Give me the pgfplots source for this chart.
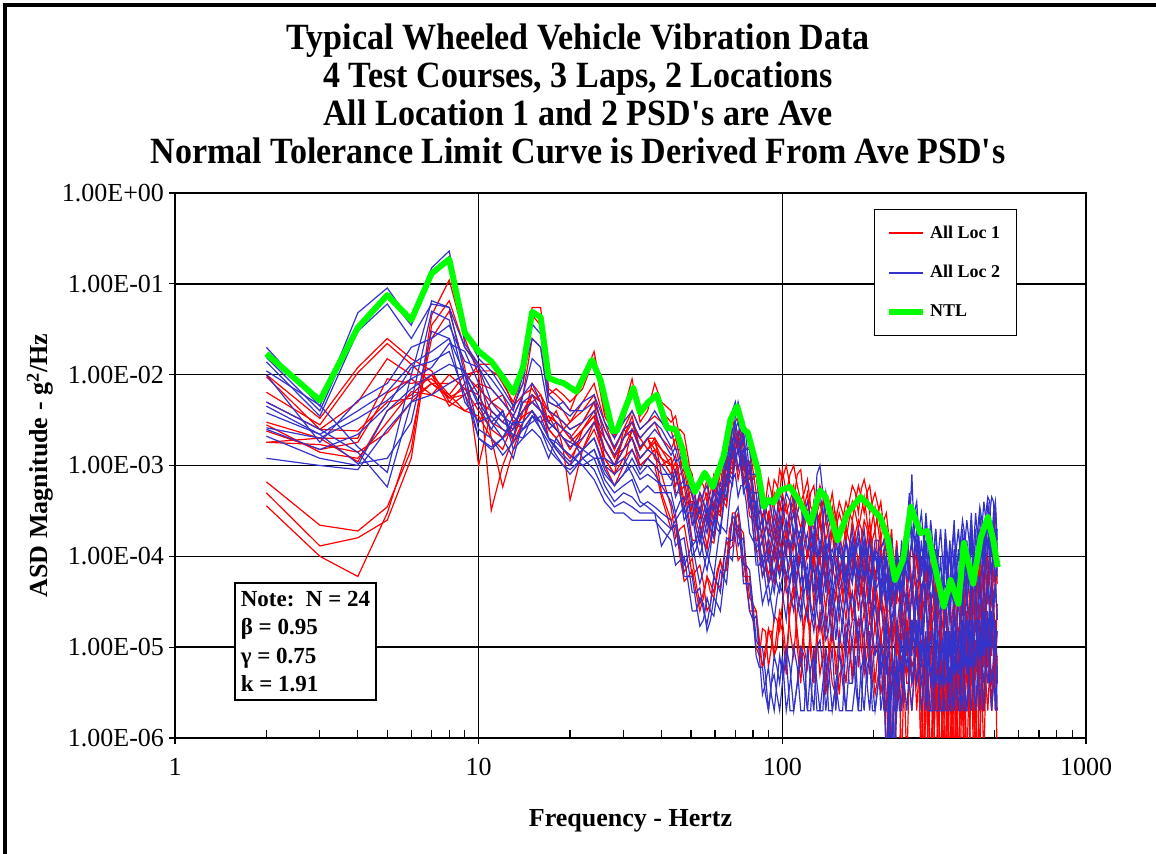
\documentclass[border=0pt]{standalone}
\usepackage{fontspec}
\setmainfont{Liberation Serif}
\newfontfamily\titlefont{Liberation Serif}[FakeStretch=0.92]
\usepackage{pgfplots}
\usepackage{pgfplotstable}
\pgfplotsset{compat=1.18}

\definecolor{locone}{RGB}{255,0,0}
\definecolor{loctwo}{RGB}{51,51,204}
\definecolor{ntlgreen}{RGB}{0,255,0}

\pgfplotsset{
  loc1/.style={draw=locone, color=locone, line width=0.6pt},
  loc2/.style={draw=loctwo, color=loctwo, line width=0.6pt},
  ntl/.style={draw=ntlgreen, color=ntlgreen, line width=3pt, line join=round},
}

% ASD of the 24 averaged PSDs: r = location 1, b = location 2 (g^2/Hz)
\pgfplotstableread{
f r1 r2 r3 r4 r5 r6 r7 r8 r9 r10 r11 r12 b1 b2 b3 b4 b5 b6 b7 b8 b9 b10 b11 b12
2 6.6e-4 5e-4 3.6e-4 1e-2 6.4e-3 5e-3 3e-3 1.8e-3 2.8e-3 1.8e-3 2.4e-3 9.5e-3 2e-2 1.55e-2 1.38e-2 1.1e-2 5e-3 3.8e-3 2.6e-3 2.1e-3 1.2e-3 1e-2 4.5e-3 2.5e-3
3 2.2e-4 1.3e-4 1e-4 3.3e-3 2.8e-3 2.5e-3 2e-3 1.7e-3 1.4e-3 2e-3 1.5e-3 2.5e-3 4.5e-3 4e-3 3.5e-3 4.6e-3 2.5e-3 2.2e-3 2e-3 1.2e-3 1e-3 1.8e-3 2.2e-3 1.5e-3
4 1.9e-4 1.6e-4 6e-5 1.2e-2 1.05e-2 5e-3 1.1e-3 1.4e-3 1.2e-3 2e-3 1.8e-3 2.4e-3 4.8e-2 3.5e-2 3e-2 1.6e-3 1.4e-3 1.05e-3 3.3e-3 1e-3 9e-4 5.2e-3 4e-3 2.2e-3
5 3.5e-4 2.5e-4 3e-4 2.5e-2 2.2e-2 1.5e-2 4e-3 2.3e-3 3e-3 9e-3 6.3e-3 5e-3 9e-2 7.5e-2 6e-2 8.4e-4 5.8e-4 1.2e-3 5.2e-3 4e-3 2.5e-3 8e-3 6.5e-3 4.5e-3
6 1.5e-3 1.2e-3 2e-3 1.5e-2 1.3e-2 1e-2 6e-3 5e-3 6.5e-3 8e-3 9e-3 5.5e-3 3.8e-2 3.5e-2 2.5e-2 1e-2 5e-3 3e-3 9e-3 7e-3 5e-3 2e-2 1.3e-2 1.2e-2
7 4.5e-2 3.5e-2 2.5e-2 1.1e-2 8e-3 1e-2 1e-2 8e-3 6e-3 9e-3 6e-3 8e-3 0.15 0.13 6e-2 6.5e-2 5e-2 3e-2 1.2e-2 1e-2 6e-3 2.5e-2 1.8e-2 1.4e-2
8 0.11 6.5e-2 5e-2 5e-3 6e-3 4.5e-3 6e-3 5.5e-3 1e-2 5.6e-3 5e-3 8e-3 0.23 0.2 5.5e-2 5.5e-2 4e-2 2.5e-2 2.2e-2 1.3e-2 8e-3 3.5e-2 2.5e-2 1.8e-2
9 2.5e-2 2e-2 1.2e-2 8e-3 1e-2 6e-3 4e-3 6e-3 7e-3 7e-3 4e-3 1e-2 3e-2 2.2e-2 2e-2 1e-2 8e-3 5e-3 1.8e-2 1.1e-2 1e-2 1.4e-2 1e-2 6e-3
10 1e-2 1.3e-2 1e-3 1.3e-2 1.1e-2 8e-3 5e-3 3e-3 4e-3 6e-3 3.5e-3 7e-3 1.5e-2 1.3e-2 1.2e-2 2.5e-3 2e-3 3e-3 8e-3 6e-3 4.5e-3 1.2e-2 5e-3 2e-3
11 3.2e-4 2e-3 4e-3 1.3e-2 1.1e-2 7e-3 4e-3 5e-3 2.5e-3 3e-3 2e-3 5e-3 1.1e-2 9e-3 7e-3 2e-3 1.5e-3 3.5e-3 4e-3 3e-3 2.5e-3 5e-3 3e-3 1.6e-3
12 1e-3 5.8e-4 3e-3 8e-3 9e-3 5e-3 3e-3 6e-3 2e-3 2.5e-3 1.5e-3 4e-3 7e-3 6e-3 5e-3 1.3e-3 2e-3 2.5e-3 3e-3 2e-3 4e-3 3.5e-3 4e-3 2e-3
13 2e-3 1.5e-3 2.5e-3 5e-3 4.5e-3 3.5e-3 4.5e-3 3e-3 2.5e-3 2e-3 3e-3 1.8e-3 4.5e-3 4e-3 3.5e-3 1.8e-3 1.2e-3 2.2e-3 2.5e-3 3.5e-3 1.5e-3 2.8e-3 2e-3 3e-3
14 4e-3 3e-3 5e-3 1e-2 8e-3 6e-3 6e-3 4e-3 3.5e-3 4e-3 2.5e-3 3e-3 8e-3 1e-2 6e-3 2.5e-3 3e-3 2e-3 5e-3 2.5e-3 2e-3 4e-3 6e-3 3e-3
15 6e-3 8e-3 5e-3 5.5e-2 4.5e-2 2.5e-2 7e-3 5e-3 4e-3 5e-3 3.5e-3 6e-3 3.6e-2 2.5e-2 1.5e-2 3.5e-3 4e-3 2.5e-3 6e-3 3e-3 3.5e-3 5e-3 8e-3 4e-3
16 5e-3 6e-3 4e-3 5.5e-2 3.5e-2 2e-2 5e-3 6e-3 3e-3 4e-3 3e-3 5e-3 2.8e-2 2e-2 1.2e-2 3e-3 2.5e-3 2e-3 4e-3 3.5e-3 2.5e-3 4e-3 5e-3 3e-3
17 3e-3 4e-3 2.5e-3 7e-3 6e-3 5e-3 4e-3 3e-3 3.5e-3 2.5e-3 3.5e-3 2e-3 6e-3 5e-3 4e-3 2e-3 1.5e-3 1.2e-3 3e-3 2e-3 1.8e-3 3e-3 2.5e-3 2e-3
18 2.5e-3 3e-3 2e-3 6e-3 7e-3 4.5e-3 3.5e-3 4e-3 2.5e-3 2e-3 3e-3 1.5e-3 5e-3 4.5e-3 3.5e-3 1.5e-3 1.2e-3 2e-3 2.5e-3 1.6e-3 1.3e-3 2.5e-3 3e-3 1.8e-3
19 2e-3 1.5e-3 2.5e-3 5e-3 6e-3 4e-3 3e-3 2.5e-3 2e-3 1.5e-3 2.5e-3 1.2e-3 4e-3 5e-3 3e-3 1.2e-3 1e-3 1.5e-3 2e-3 1.3e-3 1e-3 2e-3 2.5e-3 1.5e-3
20 1.5e-3 4.2e-4 2e-3 4e-3 5e-3 3e-3 2.5e-3 3e-3 1.8e-3 1.2e-3 2e-3 1e-3 3.5e-3 4e-3 2.5e-3 1e-3 8e-4 1.3e-3 1.6e-3 1.1e-3 9e-4 1.8e-3 2.2e-3 1.3e-3
22 2.5e-3 1.5e-3 3e-3 9e-3 7e-3 5e-3 3e-3 4e-3 2.5e-3 2e-3 1.5e-3 2.5e-3 5e-3 4e-3 3e-3 1.5e-3 1.2e-3 1e-3 2e-3 1.5e-3 1.2e-3 1.5e-3 1.2e-3 1e-3
24 4e-3 3e-3 5e-3 1.8e-2 1.5e-2 8e-3 5e-3 6e-3 3.5e-3 3e-3 2.5e-3 3.5e-3 6e-3 5e-3 4e-3 2e-3 1.5e-3 1.2e-3 3e-3 2e-3 1.5e-3 1.2e-3 9e-4 7e-4
26 1.5e-3 2e-3 1.2e-3 4e-3 3.5e-3 3e-3 2.5e-3 2e-3 1.5e-3 1.5e-3 1.2e-3 1e-3 3e-3 2.5e-3 2e-3 1e-3 8e-4 1.2e-3 1.5e-3 9e-4 7e-4 6e-4 5e-4 4e-4
28 1e-3 1.3e-3 8e-4 2e-3 2.2e-3 1.5e-3 1.5e-3 1.2e-3 1e-3 1e-3 8e-4 6e-4 2e-3 1.6e-3 1.3e-3 8e-4 6e-4 1e-3 1e-3 6e-4 5e-4 4e-4 3.5e-4 3e-4
30 2e-3 1.5e-3 2.5e-3 4e-3 3e-3 2.5e-3 2.5e-3 2e-3 1.5e-3 1.5e-3 1.2e-3 1e-3 3e-3 2.5e-3 2e-3 1e-3 8e-4 1.2e-3 1.5e-3 8e-4 6e-4 5e-4 4e-4 3e-4
32 3e-3 2.5e-3 2e-3 9e-3 7e-3 4e-3 3e-3 3.5e-3 2e-3 2e-3 1.5e-3 2.5e-3 4e-3 3e-3 2.5e-3 1.5e-3 1e-3 8e-4 2e-3 1.2e-3 7e-4 4.5e-4 3.5e-4 2.5e-4
34 1.5e-3 2e-3 1e-3 3e-3 3.5e-3 2.5e-3 2e-3 1.5e-3 1.2e-3 1.2e-3 1e-3 1.5e-3 2.5e-3 2e-3 1.6e-3 9e-4 7e-4 5e-4 1.2e-3 8e-4 4e-4 3.5e-4 3e-4 2.5e-4
36 2e-3 1.5e-3 1.2e-3 4e-3 4.5e-3 3e-3 2.5e-3 2e-3 1.5e-3 1.5e-3 1.2e-3 2e-3 3e-3 2.5e-3 2e-3 1.2e-3 8e-4 6e-4 1.5e-3 1e-3 3.5e-4 4e-4 3e-4 2.5e-4
38 1.5e-3 2e-3 1e-3 8e-3 6e-3 3.5e-3 3e-3 2e-3 1.8e-3 1.8e-3 1.5e-3 1.2e-3 4e-3 3e-3 2.5e-3 1e-3 7e-4 5e-4 1.3e-3 8e-4 3e-4 3.5e-4 3e-4 2.5e-4
40 5e-4 8e-4 4.5e-4 5e-3 4e-3 3e-3 2e-3 1.5e-3 1.2e-3 1.5e-3 1.2e-3 1e-3 3e-3 2.5e-3 2e-3 8e-4 6e-4 5e-4 1e-3 6e-4 1.3e-4 3e-4 2.5e-4 2e-4
43 2.5e-4 3.5e-4 2e-4 4e-3 3e-3 2.5e-3 1.5e-3 1.2e-3 1e-3 1e-3 8e-4 1.2e-3 2e-3 1.6e-3 1.3e-3 8e-4 6e-4 5e-4 7e-4 4e-4 2e-4 2.5e-4 2e-4 1.5e-4
44.5 2.9e-4 1.6e-4 2.2e-4 2.2e-3 3.5e-3 1.5e-3 2e-3 8e-4 1.3e-3 6e-4 1.1e-3 5e-4 2.2e-3 1.1e-3 1.6e-3 4.5e-4 8e-4 3e-4 9e-4 2.5e-4 2.5e-4 1.3e-4 2.2e-4 8e-5
46 1.3e-4 2e-4 1e-4 2.5e-3 2e-3 1.5e-3 1.2e-3 1e-3 7e-4 8e-4 6e-4 5e-4 1.5e-3 1.2e-3 1e-3 6e-4 5e-4 4e-4 5e-4 3e-4 1.5e-4 1.5e-4 1.2e-4 9e-5
47.5 6.7e-5 2.2e-4 5.3e-5 2.2e-3 1.1e-3 1.5e-3 7e-4 1.2e-3 4e-4 9e-4 3.5e-4 6e-4 9e-4 1.4e-3 6e-4 7e-4 3e-4 4.5e-4 2.5e-4 3.5e-4 8e-5 1.6e-4 6e-5 1e-4
49 8e-5 1.2e-4 6e-5 1.2e-3 1e-3 8e-4 8e-4 6e-4 5e-4 5e-4 4e-4 3e-4 1e-3 8e-4 6e-4 4e-4 3.5e-4 2.5e-4 3e-4 2e-4 1e-4 8e-5 6e-5 5e-5
50.5 9.5e-5 6e-5 7e-5 6e-4 8e-4 4.5e-4 7e-4 3e-4 5e-4 2.3e-4 4e-4 1.5e-4 7e-4 4.5e-4 5e-4 2.2e-4 3.8e-4 1.3e-4 3e-4 1e-4 1.4e-4 4e-5 6e-5 2.5e-5
52 5e-5 7e-5 4e-5 5e-4 4e-4 3.5e-4 3.5e-4 3e-4 2.5e-4 2.5e-4 2e-4 1.5e-4 4e-4 3.5e-4 3e-4 2.5e-4 2e-4 1.5e-4 1.5e-4 1.2e-4 8e-5 4e-5 3e-5 2.5e-5
53.5 3e-5 8e-5 2.5e-5 7e-4 3e-4 5e-4 2.5e-4 4.5e-4 1.7e-4 3.2e-4 1.4e-4 2.2e-4 3e-4 5e-4 2.2e-4 3.5e-4 1.4e-4 2.2e-4 1e-4 1.8e-4 5e-5 4.5e-5 1.7e-5 3.5e-5
55 4e-5 5e-5 3.5e-5 6e-4 5e-4 4e-4 4e-4 3e-4 2.5e-4 2e-4 2.5e-4 1.5e-4 5e-4 4e-4 3e-4 2.5e-4 2e-4 1.5e-4 1.5e-4 1e-4 7e-5 2.5e-5 2e-5 3e-5
56.5 6e-5 2.5e-5 6e-5 4e-4 7e-4 2.5e-4 5e-4 2.2e-4 3.2e-4 1.3e-4 3e-4 1.2e-4 6e-4 2.5e-4 4e-4 1.8e-4 3.5e-4 1e-4 2.5e-4 7e-5 1.1e-4 1.8e-5 3.5e-5 1.5e-5
58 4e-5 3e-5 5e-5 5e-4 4e-4 3e-4 3e-4 3.5e-4 2e-4 2e-4 1.5e-4 2.5e-4 4e-4 3.5e-4 2.5e-4 3e-4 2e-4 1.5e-4 2e-4 1.2e-4 8e-5 3e-5 2.5e-5 2e-5
59.5 3.5e-5 6e-5 4e-5 8e-4 3.5e-4 5.5e-4 2.5e-4 5.5e-4 1.6e-4 3.5e-4 1.4e-4 4e-4 3.2e-4 6.5e-4 2.2e-4 5e-4 1.8e-4 2.8e-4 1.6e-4 2.6e-4 6e-5 6e-5 2.2e-5 3.5e-5
61 6e-5 5e-5 7e-5 7e-4 6e-4 5e-4 5e-4 4e-4 3e-4 3e-4 2.5e-4 3.5e-4 6e-4 5e-4 4e-4 4e-4 3e-4 2.5e-4 3e-4 2e-4 1.2e-4 5e-5 4e-5 3e-5
62.5 9e-5 4.5e-5 9e-5 6e-4 1e-3 4.5e-4 8.5e-4 3.5e-4 5.5e-4 2.8e-4 4.5e-4 3e-4 1e-3 4.5e-4 6.5e-4 3.8e-4 5.5e-4 2e-4 5e-4 1.8e-4 2.2e-4 4e-5 7e-5 2.5e-5
64 7e-5 9e-5 6e-5 1e-3 8e-4 7e-4 7e-4 6e-4 5e-4 5e-4 4e-4 6e-4 1e-3 8e-4 6e-4 7e-4 5e-4 4e-4 5e-4 3.5e-4 2e-4 8e-5 6e-5 5e-5
65.5 7e-5 1.5e-4 8e-5 1.8e-3 7e-4 1.3e-3 6e-4 1.2e-3 4e-4 1e-3 3.5e-4 1.1e-3 9e-4 1.7e-3 6e-4 1.4e-3 4.5e-4 8e-4 4.5e-4 7.5e-4 1.8e-4 1.6e-4 5e-5 1e-4
67 1.5e-4 1.2e-4 2e-4 1.8e-3 1.5e-3 1.2e-3 1.3e-3 1e-3 8e-4 9e-4 7e-4 1e-3 2e-3 1.6e-3 1.3e-3 1.3e-3 1e-3 8e-4 9e-4 7e-4 4e-4 1.5e-4 1.2e-4 1e-4
68.5 3e-4 1.3e-4 2.5e-4 1.7e-3 3.2e-3 1.2e-3 2.5e-3 1e-3 1.6e-3 8e-4 1.5e-3 9e-4 4e-3 1.6e-3 2.5e-3 1.2e-3 2e-3 7e-4 1.6e-3 6e-4 7e-4 1.5e-4 2.8e-4 9e-5
70 3e-4 2.5e-4 1.6e-4 3e-3 2.5e-3 2e-3 2.5e-3 2e-3 1.5e-3 1.5e-3 1.2e-3 1.8e-3 5e-3 3.5e-3 3e-3 2.5e-3 2e-3 1.5e-3 1.5e-3 1.2e-3 8e-4 3e-4 2.5e-4 2e-4
71.5 1.6e-4 3e-4 9e-5 3.5e-3 1.6e-3 2.3e-3 1.4e-3 2.4e-3 9e-4 1.8e-3 7e-4 2e-3 3e-3 5e-3 2e-3 3e-3 1.3e-3 2e-3 9e-4 1.5e-3 4.5e-4 3.5e-4 1.3e-4 2.2e-4
73 2e-4 1.5e-4 1e-4 2.5e-3 2e-3 1.5e-3 1.8e-3 1.5e-3 1.2e-3 1.2e-3 1e-3 1.3e-3 3e-3 3.5e-3 2.5e-3 2e-3 1.8e-3 1.3e-3 1.3e-3 1e-3 6e-4 2e-4 1.5e-4 1.2e-4
74.5 1.8e-4 6e-5 1e-4 1.4e-3 2.3e-3 9e-4 2e-3 7e-4 1.3e-3 6e-4 1.2e-3 7e-4 3.2e-3 1.7e-3 2.4e-3 1e-3 2e-3 6e-4 1.5e-3 5e-4 6e-4 8e-5 1.6e-4 5e-5
76 8e-5 6e-5 5e-5 1.5e-3 1.2e-3 1e-3 1e-3 8e-4 7e-4 7e-4 6e-4 8e-4 2e-3 1.5e-3 1.2e-3 1.2e-3 1e-3 8e-4 8e-4 6e-4 4e-4 8e-5 6e-5 5e-5
78 3.5e-5 6e-5 2.5e-5 1.6e-3 7e-4 1.1e-3 5e-4 9e-4 3.5e-4 6e-4 2.8e-4 6e-4 8e-4 1.5e-3 5e-4 1e-3 4.5e-4 6e-4 3.5e-4 5e-4 1.8e-4 7e-5 2.5e-5 5e-5
80 3e-5 2e-5 2.5e-5 9e-4 7e-4 6e-4 5e-4 4e-4 3.5e-4 3e-4 2.5e-4 2e-4 8e-4 6e-4 5e-4 5e-4 4e-4 3e-4 3e-4 2e-4 1.5e-4 3e-5 2e-5 2.5e-5
82 2.5e-5 1e-5 2.5e-5 5e-4 8e-4 3.2e-4 5e-4 2e-4 3e-4 1.5e-4 2.5e-4 1.1e-4 8e-4 3e-4 5e-4 2.2e-4 4e-4 1.4e-4 2.8e-4 8e-5 1.3e-4 1.2e-5 2.2e-5 8e-6
84 1e-5 8e-6 1.2e-5 5e-4 4e-4 3e-4 2.5e-4 2e-4 1.5e-4 1.5e-4 1e-4 1.2e-4 4e-4 3e-4 2.5e-4 2e-4 1.5e-4 1.2e-4 1.2e-4 8e-5 6e-5 1e-5 8e-6 6e-6
86 6e-6 1.6e-5 6e-6 6e-4 2.5e-4 4e-4 1.5e-4 2.8e-4 8e-5 2e-4 6e-5 1.5e-4 2.2e-4 4e-4 1.5e-4 2.5e-4 8e-5 1.5e-4 6e-5 1e-4 3e-5 1e-5 3e-6 6e-6
88 1e-5 1.5e-5 8e-6 3.5e-4 4e-4 2.5e-4 2e-4 1.5e-4 1e-4 1e-4 7e-5 8e-5 3e-4 2.5e-4 2e-4 1.5e-4 1e-4 8e-5 8e-5 5e-5 4e-5 5e-6 4e-6 3e-6
90 1.6e-5 6e-6 1.5e-5 2.5e-4 7e-4 1.8e-4 3e-4 1e-4 1.6e-4 6e-5 1.2e-4 5e-5 4.5e-4 1.6e-4 2.5e-4 9e-5 1.5e-4 5e-5 1e-4 3e-5 5e-5 2e-6 6e-6 2e-6
92 1.2e-5 1e-5 1.5e-5 4e-4 5e-4 3e-4 2e-4 1.5e-4 1.2e-4 9e-5 8e-5 6e-5 3e-4 2e-4 1.5e-4 1.2e-4 9e-5 7e-5 6e-5 4e-5 3e-5 4e-6 3e-6 4e-6
94 8e-6 2.2e-5 8e-6 7e-4 3.5e-4 5e-4 1.5e-4 2.8e-4 9e-5 1.4e-4 5e-5 1.3e-4 2e-4 3.5e-4 1.2e-4 2e-4 6e-5 1.2e-4 4e-5 7e-5 2e-5 8e-6 2e-6 5e-6
96 1.5e-5 2e-5 1e-5 6e-4 5e-4 4e-4 2.5e-4 2e-4 1.5e-4 1e-4 8e-5 1.2e-4 3e-4 2.5e-4 2e-4 1.5e-4 1e-4 8e-5 7e-5 5e-5 3.5e-5 6e-6 4e-6 3e-6
98 2.5e-5 1.5e-5 2e-5 5e-4 9e-4 3e-4 4e-4 1.5e-4 2.5e-4 7e-5 1.5e-4 6e-5 5e-4 1.8e-4 3e-4 1e-4 2e-4 6e-5 1.1e-4 4e-5 5e-5 4e-6 8e-6 2e-6
100 2e-5 3e-5 1.5e-5 9e-4 7e-4 5e-4 3e-4 2.5e-4 2e-4 1.2e-4 1e-4 8e-5 4e-4 3e-4 2e-4 1.5e-4 1.2e-4 9e-5 8e-5 6e-5 4e-5 8e-6 5e-6 4e-6
103 8e-6 6e-5 5e-6 5e-4 1e-3 3e-4 1.5e-4 4e-4 1e-4 2e-4 5e-5 1.5e-4 2e-4 5e-4 1.2e-4 2.5e-4 6e-5 1.5e-4 4e-5 1.2e-4 2e-5 2e-6 1e-5 8e-6
106 2.5e-5 1.5e-5 3e-5 8e-4 6e-4 4e-4 3e-4 2e-4 2.5e-4 1e-4 8e-5 1.2e-4 3e-4 4e-4 2e-4 1.2e-4 1e-4 1.5e-4 5e-5 4e-5 6e-5 4e-6 6e-6 2e-6
109 4e-5 8e-6 5e-5 1e-3 4e-4 6e-4 4e-4 1.2e-4 3.5e-4 5e-5 1.5e-4 4e-5 5e-4 1.5e-4 3e-4 6e-5 2e-4 5e-5 1e-4 2.5e-5 8e-5 1e-5 2e-6 2e-6
112 1.5e-5 2.5e-5 1e-5 6e-4 8e-4 3e-4 2e-4 3e-4 1.5e-4 7e-5 1e-4 6e-5 2e-4 3e-4 1.5e-4 1.5e-4 8e-5 1e-4 4e-5 6e-5 3e-5 6e-6 4e-6 4e-6
115 6e-6 4e-5 4e-6 4e-4 9e-4 2e-4 1.2e-4 4e-4 1e-4 1.5e-4 4e-5 1.2e-4 1.5e-4 4e-4 1e-4 2e-4 5e-5 1.5e-4 2.5e-5 1e-4 2e-5 2e-6 1e-5 8e-6
118 2e-5 1e-5 1.6e-5 5e-4 4e-4 3.5e-4 2.5e-4 1.5e-4 2e-4 9e-5 6e-5 8e-5 3e-4 2e-4 2.5e-4 1e-4 1.3e-4 7e-5 6e-5 3e-5 4e-5 2e-6 8e-6 4e-6
121 3e-5 6e-6 3e-5 7e-4 3e-4 5e-4 3e-4 1e-4 3e-4 4e-5 1.2e-4 3e-5 4e-4 1.2e-4 3e-4 5e-5 1.8e-4 4e-5 8e-5 2e-5 6e-5 1e-5 2e-6 2e-6
124 1.2e-5 1.8e-5 8e-6 3.5e-4 5e-4 2.5e-4 1.5e-4 2e-4 1.2e-4 6e-5 8e-5 5e-5 2.5e-4 1.5e-4 2e-4 8e-5 1e-4 1.2e-4 3e-5 5e-5 2.5e-5 4e-6 2e-6 6e-6
127 5e-6 3e-5 4e-6 3e-4 6e-4 2e-4 1e-4 3e-4 8e-5 1.2e-4 3e-5 1e-4 1.2e-4 4e-4 1e-4 1.8e-4 4e-5 1.5e-4 2e-5 8e-5 1.5e-5 2e-6 1e-5 8e-6
130 1e-5 1.3e-5 1.6e-5 4e-4 3e-4 3e-4 2e-4 1.2e-4 1.5e-4 5e-5 7e-5 6e-5 8e-4 3e-4 4e-4 1.3e-4 8e-5 1e-4 5e-5 2.5e-5 3e-5 1e-5 4e-6 2e-6
133 2.5e-5 5e-6 2e-5 6e-4 2.5e-4 4e-4 3e-4 8e-5 2.5e-4 3e-5 1e-4 3e-5 1e-3 1e-4 5e-4 4e-5 1.5e-4 3e-5 7e-5 1.5e-5 6e-5 1.2e-5 2e-6 2e-6
136 1.5e-5 8e-6 1.2e-5 4.5e-4 4e-4 2.5e-4 1.5e-4 1.8e-4 1e-4 6e-5 5e-5 8e-5 5e-4 2.5e-4 3e-4 1e-4 1.2e-4 7e-5 3e-5 4e-5 2e-5 6e-6 2e-6 4e-6
139 4e-6 2.5e-5 3e-6 2.5e-4 5e-4 1.5e-4 8e-5 2.5e-4 6e-5 1e-4 2.5e-5 8e-5 3e-4 5e-4 1e-4 1.5e-4 4e-5 1.2e-4 1.5e-5 6e-5 1.2e-5 2e-6 1e-5 8e-6
142 8e-6 1e-5 6e-6 3e-4 3.5e-4 2e-4 1.2e-4 1.5e-4 8e-5 4e-5 6e-5 5e-5 2e-4 2.5e-4 1.5e-4 8e-5 1e-4 6e-5 2.5e-5 3e-5 1.5e-5 4e-6 6e-6 2e-6
146 2e-5 4e-6 1.5e-5 5e-4 2e-4 3.5e-4 2.5e-4 6e-5 2e-4 2.5e-5 8e-5 2e-5 8e-5 3e-4 6e-5 4e-5 1.2e-4 3e-5 6e-5 1.2e-5 4e-5 1e-5 2e-6 2e-6
150 5e-6 3e-6 8e-6 2.5e-4 3e-4 2e-4 1e-4 1.2e-4 7e-5 3.5e-5 5e-5 4e-5 1.5e-4 2e-4 1.2e-4 6e-5 8e-5 5e-5 2e-5 2.5e-5 1.2e-5 2e-6 4e-6 4e-6
154 1.5e-5 5e-6 3e-6 4e-4 1.5e-4 3e-4 6e-5 2e-4 5e-5 8e-5 2e-5 3e-5 1.5e-4 6e-5 1.2e-4 1.2e-4 4e-5 1.5e-4 4e-5 1e-5 3e-5 1e-5 2e-6 8e-6
158 8e-6 6e-6 1e-5 3e-4 2.5e-4 2.2e-4 1.2e-4 1e-4 8e-5 4e-5 3.5e-5 5e-5 1.2e-4 1e-4 8e-5 8e-5 6e-5 7e-5 2.5e-5 2e-5 1.5e-5 4e-6 2e-6 6e-6
162 4e-6 1.5e-5 1.8e-5 2e-4 4e-4 1.5e-4 2e-4 6e-5 1.5e-4 2e-5 7e-5 8e-5 6e-5 1.5e-4 5e-5 4e-5 1.5e-4 3e-5 1e-5 4e-5 8e-6 2e-6 1.2e-5 2e-6
166 1.2e-5 1e-5 1.5e-5 4e-4 3e-4 2.5e-4 1.5e-4 1.2e-4 1e-4 5e-5 4e-5 6e-5 1.2e-4 1e-4 8e-5 1e-4 7e-5 6e-5 3e-5 2e-5 2.5e-5 6e-6 4e-6 2e-6
170 2e-5 5e-6 4e-6 6e-4 2.5e-4 4e-4 8e-5 2.5e-4 6e-5 8e-5 2e-5 2e-5 2e-4 6e-5 1.5e-4 1.5e-4 5e-5 1.2e-4 4e-5 1e-5 4e-5 1.2e-5 4e-6 2e-6
174 2e-5 1.5e-5 1.2e-5 5e-4 4e-4 3e-4 1.8e-4 1.5e-4 1.2e-4 6e-5 5e-5 4e-5 1e-4 1.2e-4 8e-5 8e-5 1e-4 6e-5 2.5e-5 3e-5 2e-5 4e-6 8e-6 4e-6
178 6e-6 2e-5 2e-5 3e-4 6e-4 2e-4 2.5e-4 8e-5 2e-4 2.5e-5 9e-5 7e-5 6e-5 2e-4 6e-5 5e-5 1.5e-4 4e-5 1.2e-5 5e-5 1e-5 2e-6 2e-6 1.2e-5
182 1.5e-5 2e-5 1e-5 5.5e-4 4.5e-4 3e-4 2e-4 1.5e-4 1.2e-4 5e-5 6e-5 4e-5 1.2e-4 1e-4 9e-5 1e-4 8e-5 7e-5 3e-5 2e-5 2.5e-5 2e-6 6e-6 4e-6
186 2.5e-5 6e-6 5e-6 7e-4 3e-4 4.5e-4 1e-4 2.5e-4 6e-5 8e-5 2.5e-5 1e-4 2e-4 6e-5 1.5e-4 1.5e-4 5e-5 1.2e-4 4e-5 1.2e-5 5e-5 1.2e-5 8e-6 2e-6
190 1.2e-5 1.5e-5 8e-6 5e-4 5e-4 2.5e-4 1.5e-4 2e-4 1e-4 4e-5 5e-5 6e-5 1e-4 8e-5 1.2e-4 8e-5 1e-4 6e-5 2.5e-5 3e-5 1.5e-5 4e-6 4e-6 6e-6
194 5e-6 2e-5 1.5e-5 3e-4 6e-4 1.5e-4 2.5e-4 8e-5 1.8e-4 2e-5 8e-5 2e-5 5e-5 1.5e-4 5e-5 4e-5 1.5e-4 3e-5 1e-5 4e-5 8e-6 2e-6 1e-5 8e-6
198 1e-5 1.2e-5 6e-6 4e-4 3.5e-4 2.5e-4 1.2e-4 1.5e-4 8e-5 3.5e-5 4e-5 3e-5 8e-5 1e-4 6e-5 7e-5 6e-5 8e-5 2e-5 1.5e-5 2.5e-5 6e-6 4e-6 2e-6
202 1.8e-5 4e-6 3e-6 5e-4 2e-4 3.5e-4 6e-5 2e-4 5e-5 6e-5 1.5e-5 5e-5 1.5e-4 4e-5 1.2e-4 1.2e-4 4e-5 1e-4 3e-5 8e-6 4e-5 1e-5 2e-6 2e-6
207 8e-6 1e-5 5e-6 3.5e-4 3e-4 2e-4 1e-4 8e-5 6e-5 3e-5 2.5e-5 2e-5 1.5e-4 1.2e-4 1e-4 6e-5 5e-5 7e-5 1.5e-5 2e-5 1e-5 8e-6 4e-6 4e-6
211 3e-6 1.5e-5 1.2e-5 1.5e-4 4e-4 1.2e-4 1.5e-4 4e-5 1.2e-4 1.2e-5 5e-5 4e-5 4e-5 1.2e-4 3e-5 3e-5 1e-4 8e-5 8e-6 3e-5 5e-6 2e-6 1e-5 8e-6
216 6e-6 4e-6 8e-6 2.5e-4 2e-4 1.5e-4 6e-5 7e-5 4e-5 2e-5 1.5e-5 2.5e-5 1.2e-4 1.5e-4 8e-5 5e-5 6e-5 4e-5 1.2e-5 1.5e-5 8e-6 4e-6 6e-6 2e-6
220 1.2e-5 5e-7 3e-6 3e-4 1e-4 2e-4 3e-5 1e-4 2.5e-5 4e-5 5e-7 1e-5 1.2e-4 3e-5 1e-4 1e-4 2.5e-5 6e-5 2.5e-5 5e-6 2e-5 8e-6 5e-7 2e-6
225 4e-6 6e-6 5e-7 1.5e-4 1.2e-4 8e-5 4e-5 3e-5 2.5e-5 1.2e-5 5e-7 1.5e-5 1e-4 8e-5 6e-5 4e-5 5e-5 3e-5 8e-6 1e-5 5e-7 2e-6 4e-6 4e-6
229 5e-7 8e-6 5e-7 5e-5 2e-4 4e-5 8e-5 1e-5 5e-5 5e-7 2e-5 5e-7 4e-5 1.5e-4 3e-5 2e-5 6e-5 1.5e-5 5e-7 2e-5 4e-6 5e-7 6e-6 5e-7
234 5e-7 4e-6 6e-6 8e-5 6e-5 5e-5 2.5e-5 2e-5 1.5e-5 8e-6 1e-5 5e-7 6e-5 8e-5 5e-5 3e-5 4e-5 2.5e-5 6e-6 5e-7 8e-6 4e-6 2e-6 5e-7
238 6e-6 5e-7 2e-6 1.5e-4 3e-5 1e-4 1e-5 4e-5 8e-6 1.5e-5 2e-6 1e-5 1.2e-4 4e-5 1e-4 6e-5 1.5e-5 8e-5 2e-5 2e-6 1.5e-5 6e-6 2e-6 8e-6
243 4e-6 5e-7 4e-6 6e-5 8e-5 4e-5 2e-5 3e-5 1.2e-5 6e-6 8e-6 1e-5 8e-5 6e-5 7e-5 4e-5 3e-5 5e-5 1e-5 8e-6 1.2e-5 2e-6 6e-6 4e-6
247 5e-7 6e-6 8e-6 4e-5 1.2e-4 3e-5 4e-5 1e-5 3e-5 4e-6 2e-5 4e-6 4e-5 1.5e-4 4e-5 2e-5 8e-5 2e-5 4e-6 2.5e-5 5e-6 2e-6 1.2e-5 2e-6
252 6e-6 4e-6 8e-6 8e-5 1e-4 6e-5 3e-5 2.5e-5 2e-5 1e-5 1.2e-5 6e-6 1e-4 8e-5 1.2e-4 5e-5 4e-5 6e-5 1.5e-5 1e-5 1.2e-5 6e-6 4e-6 8e-6
257 1.2e-5 5e-7 4e-6 1.5e-4 5e-5 1.2e-4 1e-5 5e-5 8e-6 2e-5 5e-6 2e-5 2e-4 6e-5 2e-4 1e-4 2.5e-5 1.2e-4 3e-5 6e-6 4e-5 1.2e-5 2e-6 1.5e-5
262 8e-6 6e-6 4e-6 1e-4 8e-5 7e-5 4e-5 3e-5 2e-5 1.2e-5 8e-6 1e-5 5e-4 2e-4 3e-4 8e-5 1e-4 6e-5 2e-5 1.5e-5 2.5e-5 1e-5 6e-6 4e-6
267 4e-6 1.2e-5 2e-6 5e-5 1.5e-4 4e-5 6e-5 1.2e-5 4e-5 6e-6 2e-5 4e-6 1.5e-4 8e-4 1.2e-4 3e-5 1.5e-4 4e-5 8e-6 5e-5 1e-5 4e-6 2e-5 2e-6
272 6e-6 8e-6 5e-6 8e-5 6e-5 5e-5 3e-5 2.5e-5 2e-5 8e-6 1e-5 6e-6 3e-4 1.5e-4 2e-4 1e-4 8e-5 1.2e-4 3e-5 2e-5 1.5e-5 8e-6 1.2e-5 6e-6
277 1e-5 2e-6 1.2e-5 1.2e-4 4e-5 1e-4 1.2e-5 5e-5 8e-6 1.5e-5 4e-6 1.5e-5 4e-4 1e-4 3e-4 1.5e-4 5e-5 2e-4 5e-5 1e-5 4e-5 2e-5 4e-6 1.5e-5
282 4e-6 6e-6 4e-6 6e-5 5e-5 4e-5 2e-5 3e-5 1.5e-5 6e-6 8e-6 4e-6 1.5e-4 2e-4 1.2e-4 8e-5 6e-5 1e-4 2e-5 3e-5 1.2e-5 1e-5 6e-6 8e-6
287 2e-6 1e-5 5e-7 3e-5 1e-4 2e-5 5e-5 8e-6 3e-5 4e-6 1.2e-5 5e-7 8e-5 3e-4 6e-5 4e-5 1.5e-4 3e-5 8e-6 4e-5 6e-6 4e-6 2e-5 2e-6
292 5e-7 4e-6 6e-6 5e-5 6e-5 3e-5 1.5e-5 2e-5 1e-5 4e-6 5e-7 6e-6 1.2e-4 1.5e-4 1e-4 6e-5 8e-5 5e-5 1.5e-5 1e-5 2e-5 6e-6 8e-6 4e-6
297 8e-6 5e-7 8e-6 8e-5 2.5e-5 7e-5 6e-6 3e-5 4e-6 1.2e-5 2e-6 1e-5 3e-4 7e-5 2.5e-4 1.5e-4 3e-5 1.5e-4 4e-5 6e-6 5e-5 1.5e-5 2e-6 1.2e-5
302 4e-6 5e-7 2e-6 4e-5 5e-5 3e-5 1.2e-5 1.5e-5 8e-6 5e-7 4e-6 5e-7 1.5e-4 1e-4 1.2e-4 5e-5 6e-5 8e-5 1e-5 1.5e-5 8e-6 4e-6 6e-6 2e-6
308 5e-7 6e-6 5e-7 2e-5 8e-5 1.5e-5 3e-5 4e-6 2e-5 5e-7 1e-5 5e-7 6e-5 2.5e-4 5e-5 3e-5 1.2e-4 3e-5 5e-6 4e-5 4e-6 2e-6 1.5e-5 2e-6
314 5e-7 2e-6 5e-7 3e-5 4e-5 2e-5 1e-5 8e-6 6e-6 4e-6 5e-7 2e-6 1e-4 1.2e-4 8e-5 4e-5 6e-5 5e-5 8e-6 1.2e-5 6e-6 2e-6 4e-6 6e-6
320 6e-6 5e-7 4e-6 6e-5 1.5e-5 5e-5 4e-6 2.5e-5 2e-6 1e-5 5e-7 8e-6 2e-4 5e-5 2e-4 1.2e-4 2.5e-5 1e-4 4e-5 4e-6 3e-5 1.5e-5 2e-6 1.2e-5
326 2e-6 5e-7 4e-6 2.5e-5 3e-5 1.5e-5 6e-6 1e-5 4e-6 5e-7 2e-6 5e-7 8e-5 1e-4 6e-5 5e-5 4e-5 3e-5 1e-5 6e-6 8e-6 4e-6 2e-6 4e-6
332 5e-7 5e-6 5e-7 1.2e-5 5e-5 1e-5 2e-5 2e-6 1.5e-5 5e-7 8e-6 5e-7 5e-5 2e-4 4e-5 2.5e-5 1e-4 2e-5 4e-6 3e-5 4e-6 2e-6 1.2e-5 2e-6
338 5e-7 4e-6 5e-7 2e-5 2.5e-5 1.2e-5 4e-6 6e-6 5e-7 2e-6 5e-7 4e-6 6e-5 8e-5 5e-5 4e-5 3e-5 5e-5 6e-6 8e-6 4e-6 2e-6 4e-6 2e-6
344 5e-6 5e-7 5e-7 4e-5 1e-5 4e-5 2e-6 1.5e-5 5e-7 8e-6 5e-7 6e-6 1.5e-4 4e-5 2e-4 1e-4 2e-5 1.2e-4 3e-5 4e-6 4e-5 1.2e-5 2e-6 1.5e-5
350 4e-6 5e-7 2e-6 1.5e-5 2e-5 1e-5 6e-6 4e-6 8e-6 5e-7 4e-6 5e-7 8e-5 6e-5 1e-4 3e-5 5e-5 4e-5 8e-6 5e-6 1e-5 4e-6 2e-6 6e-6
356 5e-7 4e-6 5e-7 1e-5 4e-5 8e-6 1.5e-5 2e-6 1.2e-5 5e-7 6e-6 5e-7 4e-5 1.5e-4 4e-5 2e-5 1.2e-4 2e-5 4e-6 4e-5 4e-6 2e-6 1.5e-5 2e-6
362 2e-6 4e-6 5e-7 2e-5 1.5e-5 1.2e-5 8e-6 6e-6 4e-6 4e-6 5e-7 2e-6 1e-4 8e-5 1.2e-4 5e-5 4e-5 6e-5 1e-5 8e-6 6e-6 6e-6 4e-6 2e-6
368 4e-6 5e-7 6e-6 4e-5 1e-5 3e-5 2e-6 1.5e-5 5e-7 8e-6 5e-7 8e-6 2e-4 5e-5 2.5e-4 1.2e-4 2.5e-5 1e-4 4e-5 5e-6 3e-5 1.5e-5 2e-6 1.5e-5
374 5e-7 2e-6 4e-6 2.5e-5 2e-5 1.5e-5 6e-6 1e-5 5e-7 2e-6 4e-6 5e-7 8e-5 1.2e-4 6e-5 4e-5 6e-5 5e-5 8e-6 1.2e-5 6e-6 4e-6 6e-6 4e-6
380 5e-7 5e-6 5e-7 1.2e-5 5e-5 1e-5 1.5e-5 4e-6 1.2e-5 5e-7 8e-6 5e-7 5e-5 2e-4 5e-5 2.5e-5 1.2e-4 3e-5 5e-6 4e-5 6e-6 2e-6 1.5e-5 2e-6
386 4e-6 5e-7 2e-6 3e-5 2.5e-5 2e-5 1e-5 8e-6 6e-6 5e-7 2e-6 4e-6 1.5e-4 1e-4 8e-5 6e-5 5e-5 4e-5 1.2e-5 1e-5 8e-6 2e-6 4e-6 6e-6
392 6e-6 5e-7 5e-6 6e-5 1.5e-5 5e-5 4e-6 2e-5 4e-6 1e-5 2e-6 1e-5 2.5e-4 6e-5 2e-4 1.5e-4 3e-5 1.5e-4 5e-5 6e-6 4e-5 1.5e-5 2e-6 2e-5
398 2e-6 4e-6 5e-7 4e-5 3e-5 2.5e-5 1.2e-5 1e-5 8e-6 4e-6 5e-7 6e-6 1.8e-4 1.2e-4 1e-4 8e-5 6e-5 5e-5 1.5e-5 1.2e-5 1e-5 4e-6 8e-6 2e-6
405 5e-7 6e-6 5e-7 1.5e-5 6e-5 1.2e-5 2.5e-5 4e-6 2e-5 2e-6 1.2e-5 5e-7 6e-5 2.5e-4 5e-5 3e-5 1.5e-4 3e-5 6e-6 5e-5 5e-6 2e-6 2e-5 2e-6
412 5e-7 2e-6 4e-6 3e-5 4e-5 2e-5 1e-5 1.2e-5 6e-6 2e-6 4e-6 5e-7 1.2e-4 1.5e-4 8e-5 6e-5 8e-5 5e-5 1.2e-5 1e-5 1.5e-5 6e-6 4e-6 4e-6
419 6e-6 5e-7 8e-6 7e-5 1.5e-5 6e-5 4e-6 3e-5 4e-6 1.2e-5 2e-6 1e-5 3e-4 6e-5 2.5e-4 1.5e-4 3e-5 2e-4 5e-5 6e-6 5e-5 2e-5 2e-6 1.5e-5
426 4e-6 5e-7 6e-6 4e-5 3e-5 2.5e-5 1.2e-5 8e-6 1e-5 5e-7 4e-6 2e-6 1e-4 1.2e-4 1e-4 5e-5 6e-5 8e-5 1e-5 1.5e-5 1.2e-5 4e-6 6e-6 8e-6
433 5e-7 8e-6 5e-7 2e-5 8e-5 1.5e-5 3e-5 5e-6 2.5e-5 2e-6 1.2e-5 5e-7 8e-5 3e-4 6e-5 4e-5 2e-4 3e-5 8e-6 5e-5 6e-6 2e-6 2e-5 2e-6
440 6e-6 4e-6 5e-7 5e-5 4e-5 3e-5 1.5e-5 1.2e-5 8e-6 4e-6 6e-6 5e-7 2e-4 1.5e-4 1.2e-4 8e-5 6e-5 1e-4 1.5e-5 1.2e-5 2e-5 6e-6 1e-5 4e-6
447 8e-6 5e-7 1e-5 1e-4 2e-5 8e-5 5e-6 3e-5 5e-6 1.5e-5 2e-6 1.2e-5 3.5e-4 8e-5 3e-4 2e-4 4e-5 2e-4 5e-5 8e-6 6e-5 2e-5 2e-6 2e-5
454 4e-6 8e-6 2e-6 6e-5 5e-5 3.5e-5 2e-5 1.5e-5 1e-5 6e-6 4e-6 8e-6 2.5e-4 2e-4 1.5e-4 1e-4 8e-5 1.2e-4 2e-5 1.5e-5 2.5e-5 8e-6 6e-6 4e-6
461 5e-7 1e-5 2e-6 3e-5 1e-4 2e-5 4e-5 6e-6 3e-5 2e-6 1.5e-5 2e-6 1e-4 4e-4 8e-5 5e-5 2e-4 4e-5 1e-5 6e-5 8e-6 4e-6 2.5e-5 2e-6
468 6e-6 4e-6 8e-6 8e-5 6e-5 4e-5 2.5e-5 2e-5 1.2e-5 8e-6 6e-6 4e-6 3e-4 2.5e-4 2e-4 1.2e-4 1e-4 1.5e-4 2.5e-5 2e-5 3e-5 6e-6 8e-6 1e-5
475 1e-5 2e-6 1.2e-5 1.5e-4 3e-5 1e-4 6e-6 5e-5 6e-6 2e-5 4e-6 1.5e-5 4.5e-4 1e-4 4e-4 2.5e-4 5e-5 2.5e-4 6e-5 1e-5 6e-5 2.5e-5 4e-6 2e-5
482 8e-6 6e-6 4e-6 1.2e-4 8e-5 5e-5 3e-5 2.5e-5 1.5e-5 1e-5 8e-6 6e-6 4e-4 3e-4 2e-4 1.5e-4 1.2e-4 1e-4 3e-5 2.5e-5 2e-5 8e-6 6e-6 4e-6
489 2e-6 1.2e-5 2e-6 4e-5 2e-4 3e-5 5e-5 8e-6 4e-5 4e-6 2e-5 4e-6 1.2e-4 4.5e-4 1e-4 6e-5 2.5e-4 5e-5 1e-5 6e-5 1e-5 4e-6 2.5e-5 2e-6
496 6e-6 1e-5 4e-6 3e-4 1e-4 6e-5 4e-5 3e-5 2e-5 8e-6 1.2e-5 6e-6 3e-4 4e-4 2.5e-4 1.2e-4 1.5e-4 1e-4 3e-5 2e-5 2.5e-5 6e-6 8e-6 4e-6
503 1.2e-5 2e-6 1e-5 3e-4 4e-5 1.5e-4 8e-6 5e-5 6e-6 2e-5 4e-6 1.5e-5 4e-4 1.2e-4 3.5e-4 2e-4 5e-5 2e-4 5e-5 1e-5 5e-5 2e-5 2e-6 2e-5
510 4e-6 6e-6 5e-7 1e-4 8e-5 5e-5 3e-5 2e-5 1.5e-5 6e-6 8e-6 4e-6 1.5e-4 2e-4 1.2e-4 8e-5 1e-4 6e-5 2e-5 1.5e-5 2e-5 4e-6 6e-6 2e-6
}\datatable

\begin{document}
\begin{tikzpicture}
\useasboundingbox (0pt,0pt) rectangle (578pt,427pt);
\begin{axis}[
  at={(87.5pt,58pt)}, anchor=south west,
  scale only axis, width=455.5pt, height=272.5pt,
  xmode=log, ymode=log,
  xmin=1, xmax=1000, ymin=1e-6, ymax=1,
  xtick={1,10,100,1000}, xticklabels={1,10,100,1000},
  ytick={1e-6,1e-5,1e-4,1e-3,1e-2,1e-1,1},
  yticklabels={1.00E-06,1.00E-05,1.00E-04,1.00E-03,1.00E-02,1.00E-01,1.00E+00},
  yminorticks=false,
  tick pos=left,
  tick align=inside, major tick length=0pt, minor tick length=4pt,
  extra x ticks={1,10,100,1000}, extra x tick labels={},
  extra y ticks={1e-6,1e-5,1e-4,1e-3,1e-2,1e-1,1}, extra y tick labels={},
  extra tick style={tick align=outside, major tick length=3pt, grid=none},
  grid=major, major grid style={black, line width=0.7pt},
  axis line style={black, line width=0.8pt},
  tick style={black, line width=0.6pt},
  ticklabel style={font=\fontsize{13}{15}\selectfont},
  xticklabel style={yshift=-6.5pt},
  yticklabel style={xshift=-2pt},
  xlabel={Frequency - Hertz},
  ylabel={ASD Magnitude - g\textsuperscript{2}/Hz},
  label style={font=\bfseries\fontsize{13}{15}\selectfont},
  xlabel style={at={(axis description cs:0.5,-0.1615)}, anchor=base},
  ylabel style={at={(axis description cs:-0.1482,0.5)}, anchor=center},
  legend image code/.code={\draw[#1] (0pt,0pt) -- (17pt,0pt);},
  legend style={at={(0.924,0.9706)}, anchor=north east, draw=black,
    line width=0.6pt, fill=white, font=\bfseries\fontsize{9}{10}\selectfont,
    inner xsep=6pt, inner ysep=6pt, row sep=8pt},
  legend cell align=left,
]
\pgfplotsinvokeforeach{r1,r2,r3,r4,r5,r6,r7,r8,r9,r10,r11,r12}{
  \addplot[loc1, forget plot] table[x=f, y=#1] {\datatable};
}
\pgfplotsinvokeforeach{b1,b2,b3,b4,b5,b6,b7,b8,b9,b10,b11,b12}{
  \addplot[loc2, forget plot] table[x=f, y=#1] {\datatable};
}
% normal tolerance limit
\addplot[ntl, forget plot] coordinates {
(2,1.7e-2) (3,5.2e-3) (4,3.3e-2) (5,7.5e-2) (6,4e-2) (7,1.3e-1) (8,1.87e-1)
(9,2.9e-2) (10,1.8e-2) (11,1.4e-2) (12,9.4e-3) (13,6.3e-3) (14,1.2e-2)
(15,4.9e-2) (16,4.3e-2) (17,9.2e-3) (18,8.5e-3) (19,8.1e-3) (21,6.5e-3)
(23.6,1.45e-2) (25.2,8.7e-3) (27.6,2.4e-3) (28.5,2.4e-3) (30.5,4.4e-3)
(32.3,7.1e-3) (34,3.8e-3) (36,4.9e-3) (38.6,6e-3) (41.7,2.6e-3) (44.5,2.5e-3)
(47,1.5e-3) (48,1e-3) (51.5,5.1e-4) (55.5,8.3e-4) (59,5.8e-4) (64,1.25e-3)
(67.5,3.2e-3) (71,4.5e-3) (74.5,2.5e-3) (77,2.3e-3) (83,8.9e-4) (87,3.5e-4)
(90,4.2e-4) (93.5,3.9e-4) (98,5.3e-4) (106,5.8e-4) (114,4e-4) (124,2.3e-4)
(133,5.3e-4) (139,4.5e-4) (152,1.5e-4) (164,3e-4) (181,4.5e-4) (195,3.5e-4)
(210,2.7e-4) (222,1.6e-4) (235,5.5e-5) (250,9.3e-5) (265,3.5e-4) (285,1.8e-4)
(300,1.9e-4) (311,1.1e-4) (340,2.8e-5) (358,5.5e-5) (380,3e-5) (396,1.4e-4)
(425,5e-5) (450,1.6e-4) (475,2.7e-4) (495,1.5e-4) (512,7.6e-5)
};
\addlegendimage{draw=locone, line width=0.9pt}\addlegendentry{All Loc 1}
\addlegendimage{draw=loctwo, line width=0.9pt}\addlegendentry{All Loc 2}
\addlegendimage{draw=ntlgreen, line width=3pt}\addlegendentry{NTL}
\end{axis}
% chart area frame (left and top edges)
\draw[line width=2pt] (2.5pt,0pt) -- (2.5pt,424.5pt) -- (578pt,424.5pt);
% title
\begin{scope}[every node/.style={anchor=base, font=\titlefont\bfseries\fontsize{18.5}{20}\selectfont}]
\node at (289pt,402pt) {Typical Wheeled Vehicle Vibration Data};
\node at (289pt,383pt) {4 Test Courses, 3 Laps, 2 Locations};
\node at (289pt,364pt) {All Location 1 and 2 PSD\textquotesingle s are Ave};
\node at (289pt,345pt) {Normal Tolerance Limit Curve is Derived From Ave PSD\textquotesingle s};
\end{scope}
% note box
\node[draw=black, line width=1pt, fill=white, anchor=north west,
  minimum width=70.5pt, minimum height=58.5pt, inner xsep=2.5pt, inner ysep=2pt,
  align=left, font=\bfseries\fontsize{11.5}{14.2}\selectfont]
  at (117pt,136pt) {Note:\ \ N = 24\\β = 0.95\\γ = 0.75\\k = 1.91};
\end{tikzpicture}
\end{document}
